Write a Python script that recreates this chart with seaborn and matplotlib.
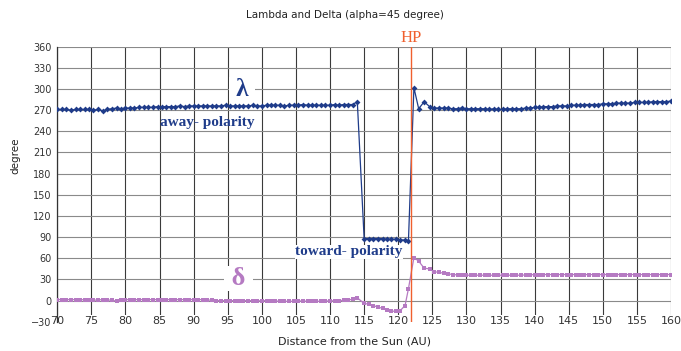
import matplotlib
matplotlib.use("Agg")
import matplotlib.pyplot as plt
import seaborn as sns
import pandas as pd

# ---------------- data ----------------
x_away = [70.0, 70.7, 71.3, 72.0, 72.7, 73.3, 74.0, 74.7, 75.3, 76.0, 76.7, 77.3, 78.0, 78.7, 79.3, 80.0,
          80.7, 81.3, 82.0, 82.7, 83.3, 84.0, 84.7, 85.3, 86.0, 86.7, 87.3, 88.0, 88.7, 89.3, 90.0, 90.7,
          91.3, 92.0, 92.7, 93.3, 94.0, 94.7, 95.3, 96.0, 96.7, 97.3, 98.0, 98.7, 99.3, 100.0, 100.7,
          101.3, 102.0, 102.7, 103.3, 104.0, 104.7, 105.3, 106.0, 106.7, 107.3, 108.0, 108.7, 109.3,
          110.0, 110.7, 111.3, 112.0, 112.7, 113.3, 114.0]
lam_away = [271, 271, 271, 270, 271, 271, 271, 271, 270,
            271, 269, 271, 272, 273, 272, 273,
            273, 273, 274, 274, 274, 274, 275, 275,
            275, 275, 275, 276, 275, 276, 276, 276, 276,
            276, 276, 276, 276, 277, 276, 276, 276, 276,
            276, 277, 276, 276, 277, 277, 277, 277, 276,
            277, 277, 277, 278, 277, 277, 277, 277, 277,
            277, 278, 277, 278, 278, 278, 282]
del_away = [1.5, 1.5, 1.5, 1.5, 1.5, 1.0, 1.5, 1.5, 0.5,
            1.0, 1.5, 0.5, 1.0, -1.0, 1.0, 1.5,
            1.5, 1.5, 1.5, 1.5, 1.5, 1.5, 1.5, 1.5,
            1.5, 1.5, 1.5, 1.5, 1.5, 1.5, 1.5, 1.5, 1.5,
            1.0, 0.5, 0.0, 0.0, 0.0, 0.0, 0.0, 0.0, 0.0,
            0.0, 0.0, -0.5, 0.0, 0.0, 0.0, -0.5, -1.0, -1.0,
            -1.0, -1.0, -0.5, -0.5, -1.0, -1.0, -1.0, -1.0, -0.5,
            -0.5, 0.0, 0.0, 0.5, 1.0, 2.0, 4.0]

x_toward = [115.0, 115.7, 116.3, 117.0, 117.7, 118.3, 119.0, 119.7, 120.3, 121.0, 121.5]
lam_toward = [88, 88, 88, 88, 88, 87, 87, 87, 86, 86, 85]
del_toward = [-4, -5, -7, -9, -11, -13, -15, -15, -14, -7, 17]

x_hp = [122.3, 123.0, 123.8, 124.6, 125.3]
lam_hp = [302, 272, 282, 275, 273]
del_hp = [61, 56, 46, 45, 41]

x_after = [126.0, 126.7, 127.3, 128.0, 128.7, 129.3, 130.0, 130.7, 131.3, 132.0, 132.7, 133.3, 134.0,
           134.7, 135.3, 136.0, 136.7, 137.3, 138.0, 138.7, 139.3, 140.0, 140.7, 141.3, 142.0, 142.7,
           143.3, 144.0, 144.7, 145.3, 146.0, 146.7, 147.3, 148.0, 148.7, 149.3, 150.0, 150.7, 151.3,
           152.0, 152.7, 153.3, 154.0, 154.7, 155.3, 156.0, 156.7, 157.3, 158.0, 158.7, 159.3, 160.0]
lam_after = [273, 273, 273, 272, 272, 273, 272, 272, 272,
             272, 272, 271, 272, 271, 271, 272, 272, 272,
             272, 273, 273, 274, 274, 275, 275, 275, 276,
             276, 276, 277, 277, 277, 278, 278, 278, 278,
             279, 279, 279, 280, 280, 280, 280, 281, 281,
             281, 281, 282, 282, 282, 282, 283]
del_after = [40, 39, 38, 37, 36.5, 36, 36, 36, 36,
             36, 36, 36, 36, 36, 36, 36, 36, 36,
             36, 36.5, 36.5, 37, 37, 37, 37, 37, 37,
             37, 37, 37, 37, 37, 37, 37, 37, 37,
             37, 37, 37, 37, 37, 37, 37, 37, 37,
             37, 37, 37, 37, 37, 37, 37]

hp_x = 121.9
y_ticks = list(range(-30, 361, 30))
x_ticks = list(range(70, 161, 5))

df = pd.DataFrame({
    "dist": x_away + x_toward + x_hp + x_after,
    "lambda": lam_away + lam_toward + lam_hp + lam_after,
    "delta": del_away + del_toward + del_hp + del_after,
})

# ---------------- style ----------------
sns.set_style("white")
plt.rcParams["font.family"] = ["DejaVu Sans"]

LAM_C = "#1f3c8a"
DEL_C = "#b57ac2"
HP_C = "#f0602e"
SERIF = ["Liberation Serif", "DejaVu Serif"]

fig = plt.figure(figsize=(6.81, 3.51), dpi=100)
ax = fig.add_axes([0.0841, 0.0832, 0.9012, 0.7838])

sns.lineplot(data=df, x="dist", y="lambda", ax=ax, sort=False, estimator=None,
             color=LAM_C, linewidth=0.9, marker="D", markersize=3,
             markeredgewidth=0, zorder=4)
sns.lineplot(data=df, x="dist", y="delta", ax=ax, sort=False, estimator=None,
             color=DEL_C, linewidth=0.9, marker="s", markersize=3.1,
             markeredgewidth=0, zorder=3)

ax.axvline(hp_x, color=HP_C, linewidth=1.0, zorder=5)

ax.set_xlim(70, 160)
ax.set_ylim(-30, 360)
ax.set_xticks(x_ticks)
ax.set_yticks(y_ticks)
ax.tick_params(axis="both", length=0, colors="#333333")
ax.tick_params(axis="x", labelsize=8, pad=-4)
ax.tick_params(axis="y", labelsize=7, pad=4)
for lab in ax.get_xticklabels():
    lab.set_bbox(dict(facecolor="white", edgecolor="none", pad=0.6))
    lab.set_zorder(6)

ax.xaxis.grid(True, color="#3a3a3a", linewidth=0.8)
ax.yaxis.grid(True, color="#8a8a8a", linewidth=0.8)
ax.get_ygridlines()[0].set_visible(False)
ax.set_axisbelow(True)
for s in ["top", "right", "bottom"]:
    ax.spines[s].set_visible(False)
ax.spines["left"].set_color("#333333")
ax.spines["left"].set_linewidth(0.9)
ax.set_xlabel("")
ax.set_ylabel("")

# annotations
ax.text(97.1, 300, " \u03bb ", color=LAM_C, fontsize=18, fontweight="bold",
        family=SERIF, ha="center", va="center", zorder=7,
        bbox=dict(facecolor="white", edgecolor="none", pad=0.5))
ax.text(96.6, 31, " \u03b4 ", color=DEL_C, fontsize=19, fontweight="bold",
        family=SERIF, ha="center", va="center", zorder=7,
        bbox=dict(facecolor="white", edgecolor="none", pad=0.5))
ax.text(92.0, 253, "away- polarity", color=LAM_C, fontsize=11, fontweight="bold",
        family=SERIF, ha="center", va="center", zorder=7)
ax.text(112.8, 69, "toward- polarity", color=LAM_C, fontsize=11, fontweight="bold",
        family=SERIF, ha="center", va="center", zorder=7,
        bbox=dict(facecolor="white", edgecolor="none", pad=0.3))
ax.text(hp_x, 1.033, "HP", color=HP_C, fontsize=12, family=SERIF,
        ha="center", va="center", transform=ax.get_xaxis_transform())

fig.text(0.507, 0.957, "Lambda and Delta (alpha=45 degree)", fontsize=7.5,
         color="#222222", ha="center", va="center")
fig.text(0.521, 0.028, "Distance from the Sun (AU)", fontsize=8,
         color="#222222", ha="center", va="center")
fig.text(0.022, 0.555, "degree", fontsize=7.5, color="#222222",
         ha="center", va="center", rotation=90)

fig.savefig("out.png", dpi=100)
